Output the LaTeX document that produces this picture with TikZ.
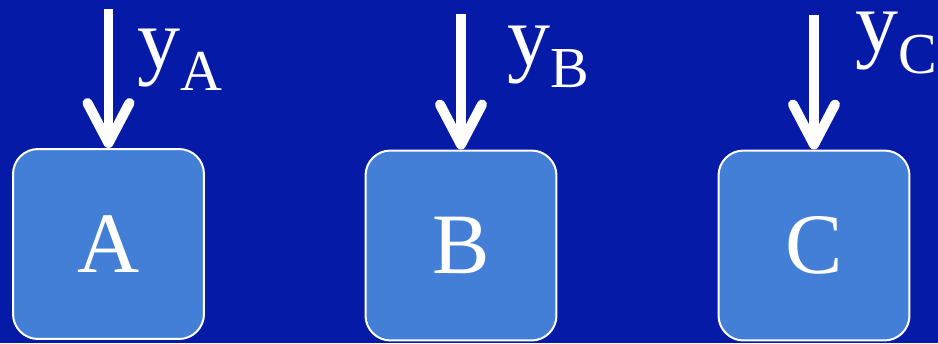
\documentclass[tikz,border=0pt]{standalone}
\usepackage{fontspec}
\setmainfont{Liberation Serif}
\usetikzlibrary{arrows.meta,positioning}

\definecolor{bgblue}{RGB}{5,26,166}
\definecolor{boxblue}{RGB}{67,127,214}

\newcommand{\subdrop}[2]{#1\raisebox{-0.44cm}{\fontsize{33}{33}\selectfont #2}}

\begin{document}
\begin{tikzpicture}[
    x=0.02cm, y=-0.02cm,
    agent/.style={draw=white, line width=0.04cm, fill=boxblue, rounded corners=0.5cm,
        minimum width=3.82cm, minimum height=3.8cm, text=white,
        font=\fontsize{49}{50}\selectfont},
    ylabel/.style={text=white, inner sep=0pt, anchor=base west,
        font=\fontsize{49}{50}\selectfont},
    feed/.style={white, line width=0.2cm,
        -{Straight Barb[round, length=0.8cm, width=0.84cm]}}
]

% background and page size
\fill[bgblue] (0,0) rectangle (938,343);

\node[agent] (box_a) at (108.5,244) {A};
\node[agent] (box_b) at (461,245.5) {B};
\node[agent] (box_c) at (814,245.5) {C};

\coordinate (in_a) at (108.5,9);
\coordinate (in_b) at (461,14);
\coordinate (in_c) at (814,15);

\draw[feed] (in_a) -- (box_a.north);
\draw[feed] (in_b) -- (box_b.north);
\draw[feed] (in_c) -- (box_c.north);

\node[ylabel] (lab_a) at (137,68) {\subdrop{y}{A}};
\node[ylabel] (lab_b) at (507,65) {\subdrop{y}{B}};
\node[ylabel] (lab_c) at (855,51) {\subdrop{y}{C}};

\end{tikzpicture}
\end{document}
